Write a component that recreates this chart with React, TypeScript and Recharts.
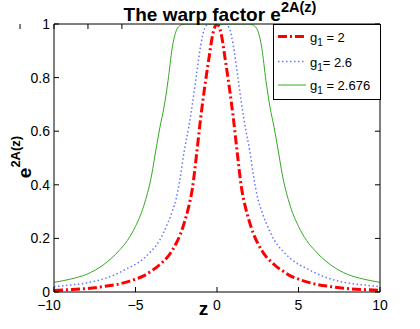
import React from 'react';
import { LineChart, Line, XAxis, YAxis, Legend } from 'recharts';

if (typeof document !== 'undefined') {
  document.body.style.margin = '0';
}

const zValues = [
  -10, -9, -8, -7, -6, -5.5, -5, -4.5, -4, -3.75, -3.5, -3.25, -3, -2.75, -2.5, -2.25, -2, -1.75, -1.5, -1.25, -1, -0.75, -0.5, -0.25,
  0,
  0.25, 0.5, 0.75, 1, 1.25, 1.5, 1.75, 2, 2.25, 2.5, 2.75, 3, 3.25, 3.5, 3.75, 4, 4.5, 5, 5.5, 6, 7, 8, 9, 10,
];

const warpG2 = [
  0.006, 0.009, 0.013, 0.02, 0.03, 0.038, 0.048, 0.06, 0.08, 0.09, 0.103, 0.117, 0.133, 0.155, 0.182, 0.215, 0.26, 0.315, 0.39, 0.515, 0.65, 0.766, 0.87, 0.965,
  1.0,
  0.965, 0.87, 0.766, 0.65, 0.515, 0.39, 0.315, 0.26, 0.215, 0.182, 0.155, 0.133, 0.117, 0.103, 0.09, 0.08, 0.06, 0.048, 0.038, 0.03, 0.02, 0.013, 0.009, 0.006,
];

const warpG26 = [
  0.02, 0.026, 0.034, 0.048, 0.072, 0.088, 0.103, 0.125, 0.155, 0.172, 0.195, 0.225, 0.26, 0.3, 0.35, 0.43, 0.53, 0.61, 0.705, 0.815, 0.92, 0.985, 1.0, 1.0,
  1.0,
  1.0, 1.0, 0.985, 0.92, 0.815, 0.705, 0.61, 0.53, 0.43, 0.35, 0.3, 0.26, 0.225, 0.195, 0.172, 0.155, 0.125, 0.103, 0.088, 0.072, 0.048, 0.034, 0.026, 0.02,
];

const warpG2676 = [
  0.036, 0.048, 0.066, 0.1, 0.155, 0.192, 0.245, 0.32, 0.44, 0.53, 0.615, 0.69, 0.79, 0.91, 0.975, 0.995, 1.0, 1.0, 1.0, 1.0, 1.0, 1.0, 1.0, 1.0,
  1.0,
  1.0, 1.0, 1.0, 1.0, 1.0, 1.0, 1.0, 1.0, 0.995, 0.975, 0.91, 0.79, 0.69, 0.615, 0.53, 0.44, 0.32, 0.245, 0.192, 0.155, 0.1, 0.066, 0.048, 0.036,
];

const xTicks = [-10, -5, 0, 5, 10];
const yTicks = [0, 0.2, 0.4, 0.6, 0.8, 1];
const yTickLabels = ['0', '0.2', '0.4', '0.6', '0.8', '1'];
const legendValues = ['= 2', '= 2.6', '= 2.676'];

const data = zValues.map((z, i) => ({ z, a: warpG2[i], b: warpG26[i], c: warpG2676[i] }));

const series = [
  { key: 'a', color: '#ff0000', width: 3, dash: '9 3 2 3', label: legendValues[0], gap: ' ' },
  { key: 'b', color: '#6677ff', width: 1.5, dash: '1.5 2.5', label: legendValues[1], gap: '' },
  { key: 'c', color: '#33aa22', width: 1, dash: undefined as string | undefined, label: legendValues[2], gap: ' ' },
];

const FONT = 'Liberation Sans, Arial, Helvetica, sans-serif';
const TICK = 5;

const LeftTick = (props: any) => {
  const { x, y, index } = props;
  const axisX = x + 4;
  return (
    <g>
      <line x1={axisX} x2={axisX + TICK} y1={y} y2={y} stroke="#000" strokeWidth={1} />
      <text x={x} y={y} dy={5} textAnchor="end" fontSize={14} fontFamily={FONT} fill="#000">
        {yTickLabels[index]}
      </text>
    </g>
  );
};

const RightTick = (props: any) => {
  const { x, y } = props;
  return <line x1={x} x2={x - TICK} y1={y} y2={y} stroke="#000" strokeWidth={1} />;
};

const fmtX = (v: number) => (v < 0 ? '\u2212' + Math.abs(v) : String(v));

const BottomTick = (props: any) => {
  const { x, y, payload } = props;
  const axisY = y - 4;
  const shift = payload.value === -10 ? -5 : 0;
  return (
    <g>
      <line x1={x} x2={x} y1={axisY} y2={axisY - TICK} stroke="#000" strokeWidth={1} />
      <text x={x + shift} y={axisY + 17.5} textAnchor="middle" fontSize={14} fontFamily={FONT} fill="#000">
        {fmtX(payload.value)}
      </text>
    </g>
  );
};

const TopTick = (props: any) => {
  const { x, y } = props;
  return <line x1={x} x2={x} y1={y} y2={y + TICK} stroke="#000" strokeWidth={1} />;
};

const TitleLabel = (props: any) => {
  const vb = props.viewBox || { x: 54, width: 326 };
  const cx = vb.x + vb.width / 2 + 3;
  return (
    <text x={cx} y={20.5} textAnchor="middle" fontFamily={FONT} fontWeight="bold" fill="#000">
      <tspan fontSize={19}>The warp factor e</tspan>
      <tspan fontSize={14.5} dy={-9}>2A(z)</tspan>
    </text>
  );
};

const XLabel = (props: any) => {
  const vb = props.viewBox || { x: 54, width: 326, y: 292 };
  const cx = vb.x + vb.width / 2 - 13.5;
  return (
    <text x={cx} y={315} textAnchor="middle" fontSize={19} fontWeight="bold" fontFamily={FONT} fill="#000">
      z
    </text>
  );
};

const YLabel = (props: any) => {
  const vb = props.viewBox || { y: 24, height: 268 };
  const cy = vb.y + vb.height / 2 - 1;
  const cx = 31;
  return (
    <text x={cx} y={cy} textAnchor="middle" fontFamily={FONT} fontWeight="bold" fill="#000" transform={`rotate(-90, ${cx}, ${cy})`}>
      <tspan fontSize={19}>e</tspan>
      <tspan fontSize={13} dy={-11}>2A(z)</tspan>
    </text>
  );
};

const LegendBox = () => {
  const w = 107;
  const h = 75;
  const rows = [12.5, 37.5, 61];
  return (
    <svg width={w + 2} height={h + 2} style={{ display: 'block' }}>
      <rect x={0.5} y={0.5} width={w} height={h} fill="#fff" stroke="#000" strokeWidth={1} />
      {series.map((s, i) => (
        <g key={s.key}>
          <line x1={5} x2={33} y1={rows[i]} y2={rows[i]} stroke={s.color} strokeWidth={s.width} strokeDasharray={s.dash} />
          <text x={37} y={rows[i] + 5} fontSize={13} fontFamily={FONT} fill="#000">
            <tspan>g</tspan>
            <tspan fontSize={10} dy={4}>1</tspan>
            <tspan dy={-4}>{s.gap + s.label}</tspan>
          </text>
        </g>
      ))}
    </svg>
  );
};

export default function App() {
  return (
    <LineChart width={420} height={329} data={data} margin={{ top: 0, right: 0, bottom: 0, left: 0 }} style={{ background: '#fff' }}>
      <XAxis
        dataKey="z"
        type="number"
        domain={[-10, 10]}
        ticks={xTicks}
        height={37}
        tickSize={0}
        tickMargin={4}
        axisLine={{ stroke: '#000' }}
        tickLine={false}
        tick={<BottomTick />}
        interval={0}
        allowDataOverflow
        label={<XLabel />}
      />
      <XAxis
        xAxisId="top"
        orientation="top"
        type="number"
        domain={[-10, 10]}
        ticks={xTicks}
        height={24}
        tickSize={0}
        tickMargin={0}
        axisLine={{ stroke: '#000' }}
        tickLine={false}
        tick={<TopTick />}
        interval={0}
        allowDataOverflow
        label={<TitleLabel />}
      />
      <YAxis
        type="number"
        domain={[0, 1]}
        ticks={yTicks}
        width={54}
        tickSize={0}
        tickMargin={4}
        axisLine={{ stroke: '#000' }}
        tickLine={false}
        tick={<LeftTick />}
        interval={0}
        allowDataOverflow
        label={<YLabel />}
      />
      <YAxis
        yAxisId="right"
        orientation="right"
        type="number"
        domain={[0, 1]}
        ticks={yTicks}
        width={40}
        tickSize={0}
        tickMargin={0}
        axisLine={{ stroke: '#000' }}
        tickLine={false}
        tick={<RightTick />}
        interval={0}
        allowDataOverflow
      />
      <Legend
        layout="vertical"
        align="center"
        verticalAlign="middle"
        content={<LegendBox />}
        wrapperStyle={{ position: 'absolute', left: 273, top: 24, width: 109, height: 77 }}
      />
      {series.map((s) => (
        <Line
          key={s.key}
          type="monotone"
          dataKey={s.key}
          stroke={s.color}
          strokeWidth={s.width}
          strokeDasharray={s.dash}
          dot={false}
          activeDot={false}
          isAnimationActive={false}
        />
      ))}
    </LineChart>
  );
}
